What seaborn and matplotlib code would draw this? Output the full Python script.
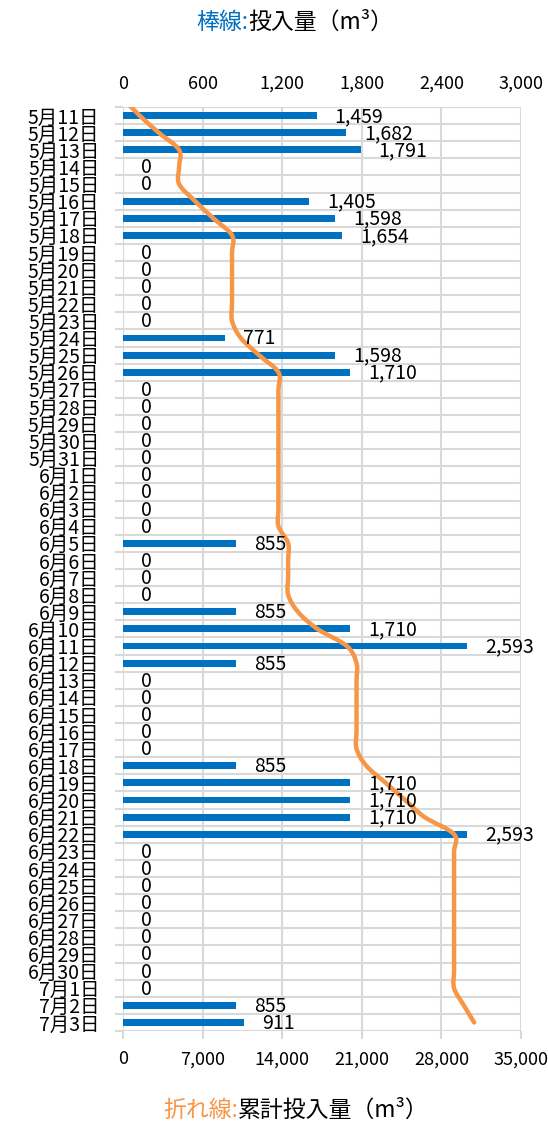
import numpy as np
import pandas as pd
import matplotlib
matplotlib.use("Agg")
import matplotlib.pyplot as plt
from matplotlib.path import Path
from matplotlib.patches import PathPatch
from matplotlib.ticker import FixedLocator, FuncFormatter
import seaborn as sns

# ---- data -------------------------------------------------------------
dates = (
    [f"5月{d}日" for d in range(11, 32)]
    + [f"6月{d}日" for d in range(1, 31)]
    + [f"7月{d}日" for d in range(1, 4)]
)
amounts = [
    1459, 1682, 1791, 0, 0, 1405, 1598, 1654, 0, 0,      # 5/11 - 5/20
    0, 0, 0, 771, 1598, 1710, 0, 0, 0, 0,                # 5/21 - 5/30
    0, 0, 0, 0, 0, 855, 0, 0, 0, 855,                    # 5/31 - 6/9
    1710, 2593, 855, 0, 0, 0, 0, 0, 855, 1710,           # 6/10 - 6/19
    1710, 1710, 2593, 0, 0, 0, 0, 0, 0, 0,               # 6/20 - 6/29
    0, 0, 855, 911,                                      # 6/30 - 7/3
]
bar_ticks = [0, 600, 1200, 1800, 2400, 3000]
cum_ticks = [0, 7000, 14000, 21000, 28000, 35000]

df = pd.DataFrame({"date": dates, "amount": amounts})
df["cumulative"] = df["amount"].cumsum()

BLUE = "#0070C0"
ORANGE = "#F79646"
GRID = "#D9D9D9"

sns.set_theme(style="white")
plt.rcParams["font.family"] = ["Noto Sans CJK JP", "DejaVu Sans"]

W, H = 548, 1123
fig = plt.figure(figsize=(W / 100, H / 100), dpi=100)
left, right, top, bottom = 123, 521, 107, 1031
ax = fig.add_axes([left / W, 1 - bottom / H, (right - left) / W, (bottom - top) / H])

# ---- bars (daily amount, top axis) -----------------------------------
sns.barplot(data=df, x="amount", y="date", orient="h", color=BLUE,
            width=0.4, linewidth=0, saturation=1, ax=ax)
n = len(df)
ax.set_xlim(bar_ticks[0], bar_ticks[-1])
ax.set_ylim(n - 0.5, -0.5)
ax.set_xlabel("")
ax.set_ylabel("")

# secondary axis for the cumulative curve
ax2 = ax.twiny()
ax2.set_xlim(cum_ticks[0], cum_ticks[-1])

ax.xaxis.tick_top()
ax.xaxis.set_label_position("top")
ax.xaxis.set_major_locator(FixedLocator(bar_ticks))
ax.xaxis.set_major_formatter(FuncFormatter(lambda v, p: f"{int(v):,}"))
ax.tick_params(axis="x", which="major", top=True, bottom=False,
               labeltop=True, labelbottom=False, length=0, pad=10,
               labelsize=13, labelcolor="black")

ax.yaxis.set_major_locator(FixedLocator(np.arange(n)))
ax.set_yticklabels(dates)
ax.yaxis.set_minor_locator(FixedLocator(np.arange(n + 1) - 0.5))
ax.tick_params(axis="y", which="major", length=0, pad=17, labelsize=14,
               labelcolor="black")
ax.tick_params(axis="y", which="minor", left=True, length=6, width=1.5,
               color=GRID)

ax.grid(False)
ax.grid(True, which="minor", axis="y", color=GRID, linewidth=1.5)
ax.grid(True, which="major", axis="x", color=GRID, linewidth=1.5)
ax.set_axisbelow(True)
for s in ax.spines.values():
    s.set_visible(False)

ax2.xaxis.tick_bottom()
ax2.xaxis.set_label_position("bottom")
ax2.xaxis.set_major_locator(FixedLocator(cum_ticks))
ax2.xaxis.set_major_formatter(FuncFormatter(lambda v, p: f"{int(v):,}"))
ax2.tick_params(axis="x", which="major", bottom=True, top=False,
                labelbottom=True, labeltop=False, length=6,
                width=1.5, color=GRID, pad=8, labelsize=13, labelcolor="black")
for s in ax2.spines.values():
    s.set_visible(False)
ax2.grid(False)

# ---- smoothed cumulative line (bottom axis) --------------------------
xs = np.concatenate([[0], df["cumulative"].to_numpy(dtype=float)])
ys = np.arange(-1, n, dtype=float)
pts = np.column_stack([xs, ys])
# Catmull-Rom segments expressed as cubic Bezier curves
verts = [pts[0]]
codes = [Path.MOVETO]
for i in range(len(pts) - 1):
    p0 = pts[i - 1] if i > 0 else pts[i]
    p1, p2 = pts[i], pts[i + 1]
    p3 = pts[i + 2] if i + 2 < len(pts) else pts[i + 1]
    c1 = p1 + (p2 - p0) / 6.0
    c2 = p2 - (p3 - p1) / 6.0
    verts += [c1, c2, p2]
    codes += [Path.CURVE4] * 3
curve = PathPatch(Path(verts, codes), fill=False, edgecolor=ORANGE,
                  linewidth=3.2, capstyle="round", joinstyle="round",
                  transform=ax2.transData, zorder=3)
ax2.add_patch(curve)

# ---- data labels ------------------------------------------------------
for i, v in enumerate(df["amount"]):
    ax2.annotate(f"{v:,}", xy=(v, i), xycoords=ax.transData,
                 xytext=(18, -1), textcoords="offset pixels",
                 ha="left", va="center", fontsize=14, color="black",
                 zorder=5, annotation_clip=False)

# ---- axis titles (two-colour) -----------------------------------------
ty = 1 - 22 / H
fig.text(248 / W, ty, "棒線:", color=BLUE, fontsize=16.5, ha="right", va="center")
fig.text(248 / W, ty, "投入量（m³）", color="black", fontsize=16.5, ha="left", va="center")
by = 1 - 1110 / H
fig.text(238 / W, by, "折れ線:", color=ORANGE, fontsize=16.5, ha="right", va="center")
fig.text(238 / W, by, "累計投入量（m³）", color="black", fontsize=16.5, ha="left", va="center")

fig.savefig("out.png", dpi=100, facecolor="white")
